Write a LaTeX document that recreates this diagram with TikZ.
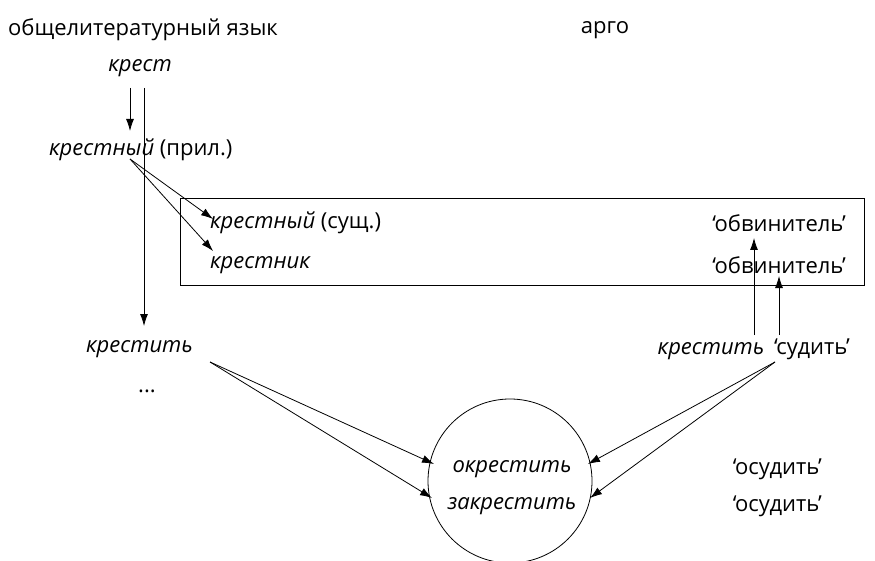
\documentclass[tikz,border=0pt]{standalone}
\usepackage{fontspec}
\setmainfont{Open Sans}
\usetikzlibrary{arrows.meta}
\begin{document}
\begin{tikzpicture}[x=1pt,y=-1pt,
  every node/.style={inner sep=0pt,font=\fontsize{22}{26}\selectfont},
  arr/.style={-{Latex[length=12pt,width=8pt]},line width=0.8pt},
  ln/.style={line width=0.8pt}]
\useasboundingbox (0,0) rectangle (875,561);
\node[anchor=west] (lit) at (8,30) {общелитературный язык};
\node (argo) at (605,30) {арго};
\node (krest) at (140,68) {\itshape крест};
\node[anchor=west] (krestnyj) at (49,150) {\textit{крестный} (прил.)};
\draw[ln] (180,198) rectangle (864,285);
\node[anchor=west] (sush) at (210,223) {\textit{крестный} (сущ.)};
\node[anchor=west] (krestnik) at (210,265) {\itshape крестник};
\node[anchor=east] (obv1) at (846,223) {‘обвинитель’};
\node[anchor=east] (obv2) at (846,265) {‘обвинитель’};
\node[anchor=west] (krestit) at (86,349) {\itshape крестить};
\node (dots) at (147,391) {...};
\node[anchor=east] (sudit) at (850,349) {\textit{крестить}\hspace{4pt} ‘судить’};
\node[draw,circle,minimum size=164pt,line width=0.8pt] (circ) at (510,481) {};
\node (okr) at (512,469) {\itshape окрестить};
\node (zakr) at (512,506) {\itshape закрестить};
\node[anchor=east] (osud1) at (822,469) {‘осудить’};
\node[anchor=east] (osud2) at (822,506) {‘осудить’};
% arrows
\coordinate (a1s) at (130,88);
\coordinate (a1e) at (130,131);
\draw[arr] (a1s) -- (a1e);
\coordinate (a2s) at (144,88);
\coordinate (a2e) at (144,326);
\draw[arr] (a2s) -- (a2e);
\coordinate (b0) at (130,159);
\coordinate (b1) at (213,219);
\coordinate (b2) at (213,251);
\draw[arr] (b0) -- (b1);
\draw[arr] (b0) -- (b2);
\coordinate (c1s) at (754,335);
\coordinate (c1e) at (754,238);
\coordinate (c2s) at (779,335);
\coordinate (c2e) at (779,276);
\draw[arr] (c1s) -- (c1e);
\draw[arr] (c2s) -- (c2e);
\coordinate (d0) at (210,362);
\coordinate (d1) at (434,464);
\coordinate (d2) at (432,498);
\draw[arr] (d0) -- (d1);
\draw[arr] (d0) -- (d2);
\coordinate (e0) at (775,362);
\coordinate (e1) at (588,464);
\coordinate (e2) at (590,498);
\draw[arr] (e0) -- (e1);
\draw[arr] (e0) -- (e2);
\end{tikzpicture}
\end{document}
